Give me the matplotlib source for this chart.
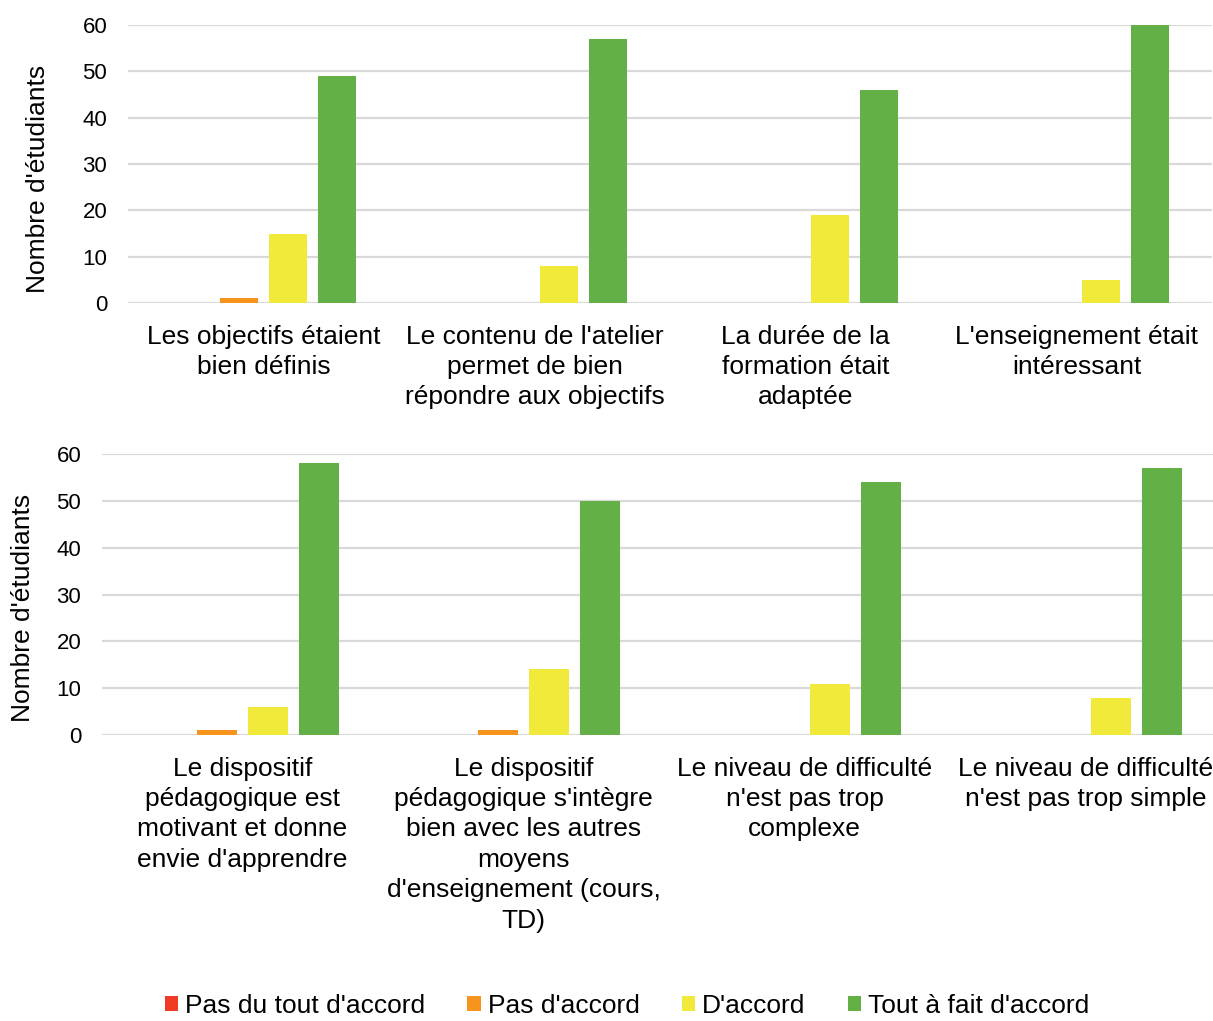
import matplotlib
matplotlib.use("Agg")
import matplotlib.pyplot as plt
import numpy as np

plt.rcParams['font.family'] = ['Liberation Sans', 'DejaVu Sans']

# Survey answers (number of students)
series_names = ["Pas du tout d'accord", "Pas d'accord", "D'accord", "Tout à fait d'accord"]
colors = ['#EF3B26', '#F7941D', '#F1EA3A', '#62B046']

top_labels = ["Les objectifs étaient\nbien définis",
              "Le contenu de l'atelier\npermet de bien\nrépondre aux objectifs",
              "La durée de la\nformation était\nadaptée",
              "L'enseignement était\nintéressant"]
top_pas_du_tout = [0, 0, 0, 0]
top_pas = [1, 0, 0, 0]
top_accord = [15, 8, 19, 5]
top_tout_a_fait = [49, 57, 46, 60]

bottom_labels = ["Le dispositif\npédagogique est\nmotivant et donne\nenvie d'apprendre",
                 "Le dispositif\npédagogique s'intègre\nbien avec les autres\nmoyens\nd'enseignement (cours,\nTD)",
                 "Le niveau de difficulté\nn'est pas trop\ncomplexe",
                 "Le niveau de difficulté\nn'est pas trop simple"]
bottom_pas_du_tout = [0, 0, 0, 0]
bottom_pas = [1, 1, 0, 0]
bottom_accord = [6, 14, 11, 8]
bottom_tout_a_fait = [58, 50, 54, 57]

fig = plt.figure(figsize=(12.13, 10.21), dpi=100)
ax_top = fig.add_axes([128 / 1213, 0.7032, 1084 / 1213, 0.2723])
ax_bot = fig.add_axes([102 / 1213, 0.2801, 1124 / 1213, 0.2752])


def draw_panel(ax, labels, data, pitch, width, label_x, label_y):
    x = np.arange(len(labels))
    handles = []
    for i, (vals, col) in enumerate(zip(data, colors)):
        h = ax.bar(x + (i - 1.5) * pitch, vals, width, color=col, zorder=3,
                   label=series_names[i])
        handles.append(h)
    ax.set_xlim(-0.5, len(labels) - 0.5)
    ax.set_ylim(0, 60)
    ax.set_yticks(range(0, 61, 10))
    ax.yaxis.grid(True, color='#D9D9D9', linewidth=1.6, zorder=0)
    ax.set_axisbelow(True)
    for s in ax.spines.values():
        s.set_visible(False)
    ax.tick_params(axis='both', length=0)
    ax.tick_params(axis='y', labelsize=16, pad=15)
    ax.set_xticks(x)
    ax.set_xticklabels(labels, fontsize=19, linespacing=1.34)
    ax.tick_params(axis='x', pad=15.5)
    ax.set_ylabel("Nombre d'étudiants", fontsize=19)
    ax.yaxis.set_label_coords(label_x, label_y)
    return handles


draw_panel(ax_top, top_labels,
           [top_pas_du_tout, top_pas, top_accord, top_tout_a_fait],
           0.181, 0.14, -0.072, 0.446)
handles = draw_panel(ax_bot, bottom_labels,
                     [bottom_pas_du_tout, bottom_pas, bottom_accord, bottom_tout_a_fait],
                     0.181, 0.142, -0.060, 0.452)

fig.legend(handles=handles, loc='center', bbox_to_anchor=(627 / 1213, 1 - 1006 / 1021),
           ncol=4, frameon=False, fontsize=19, handlelength=0.5, handleheight=0.5,
           handletextpad=0.27, columnspacing=1.6, borderpad=0)

fig.savefig('out.png', dpi=100)
plt.close(fig)
